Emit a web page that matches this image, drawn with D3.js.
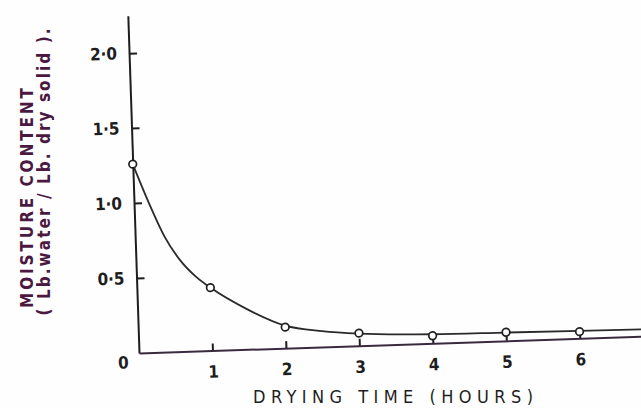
<!DOCTYPE html>
<html>
<head>
<meta charset="utf-8">
<script src="https://cdn.jsdelivr.net/npm/d3@7"></script>
<style>
  html, body { margin: 0; padding: 0; background: #fefefe; }
  svg { display: block; }
  text { font-family: "DejaVu Sans Condensed", "Liberation Sans Narrow", "Roboto Condensed", "DejaVu Sans", sans-serif; font-weight: bold; }
  text.xtitle { font-weight: normal; }
</style>
</head>
<body>
<script>
// ---- data ----
const times = [0, 1, 2, 3, 4, 5, 6];                       // drying time (hours), measured points
const moisture = [1.26, 0.42, 0.14, 0.084, 0.05, 0.057, 0.045]; // lb water / lb dry solid
// smooth drying curve drawn through the points
const curveTimes = [0, 0.2, 0.4, 0.6, 0.8, 1, 1.5, 2, 2.5, 3, 4, 5, 6, 7];
const curveMoisture = [1.26, 1.0, 0.77, 0.61, 0.5, 0.42, 0.265, 0.15, 0.105, 0.08, 0.06, 0.055, 0.05, 0.045];
const xTicks = [1, 2, 3, 4, 5, 6];
const yTicks = [0.5, 1.0, 1.5, 2.0];
const xTitle = "DRYING TIME   (HOURS)";
const yTitle1 = "MOISTURE CONTENT";
const yTitle2 = "( Lb.water / Lb. dry solid ).";

const W = 641, H = 408;
const ink = "#1e1e1e";
const svg = d3.select("body").append("svg").attr("width", W).attr("height", H);
svg.append("rect").attr("width", W).attr("height", H).attr("fill", "#fefefe");

const ox = 139, oy = 353;           // axis origin on the page
const tilt = -1.9;                  // the scanned figure is slightly rotated
const x = d3.scaleLinear().domain([0, 7]).range([0, 7 * 73.5]);
const y = d3.scaleLinear().domain([0, 2.25]).range([0, -337.5]);

const g = svg.append("g").attr("transform", `translate(${ox},${oy}) rotate(${tilt})`);

const fmt = d => d3.format(".1f")(d).replace(".", "\u00B7");

// y axis
const yAxis = d3.axisLeft(y).tickValues(yTicks).tickSizeInner(-8).tickSizeOuter(0)
  .tickPadding(12).tickFormat(fmt);
const ya = g.append("g").call(yAxis);
ya.select(".domain").attr("stroke", ink).attr("stroke-width", 2);
ya.selectAll(".tick line").attr("stroke", ink).attr("stroke-width", 2);
ya.selectAll(".tick text").attr("fill", ink).attr("font-size", 17).attr("font-family", null);

// x axis
const xAxis = d3.axisBottom(x).tickValues(xTicks).tickSizeInner(-7).tickSizeOuter(0)
  .tickPadding(15).tickFormat(d3.format("d"));
const xa = g.append("g").call(xAxis);
xa.select(".domain").attr("stroke", "#3a2a40").attr("stroke-width", 2);
xa.selectAll(".tick line").attr("stroke", ink).attr("stroke-width", 2);
xa.selectAll(".tick text").attr("fill", ink).attr("font-size", 17).attr("font-family", null);

// origin label
g.append("text").attr("x", -16).attr("y", 9).attr("dy", "0.35em")
  .attr("text-anchor", "middle").attr("font-size", 17).attr("fill", ink).text(d3.format("d")(0));

// drying curve
const line = d3.line().x(d => x(d[0])).y(d => y(d[1])).curve(d3.curveMonotoneX);
g.append("path").datum(d3.zip(curveTimes, curveMoisture))
  .attr("d", line).attr("fill", "none").attr("stroke", "#2a2a2a").attr("stroke-width", 1.8);

// measured points
g.selectAll("circle.pt").data(d3.zip(times, moisture)).join("circle")
  .attr("class", "pt")
  .attr("cx", d => x(d[0])).attr("cy", d => y(d[1])).attr("r", 3.8)
  .attr("fill", "#fefefe").attr("stroke", ink).attr("stroke-width", 1.7);

// x title (page coordinates)
svg.append("text").attr("class", "xtitle").attr("x", 393).attr("y", 403).attr("text-anchor", "middle")
  .attr("font-size", 18).attr("fill", ink)
  .attr("textLength", 280).attr("lengthAdjust", "spacing").text(xTitle);

// y titles (page coordinates)
svg.append("text").attr("transform", "translate(33,198) rotate(-90)")
  .attr("text-anchor", "middle").attr("font-size", 17).attr("fill", "#4a1840")
  .attr("textLength", 220).attr("lengthAdjust", "spacing").text(yTitle1);
svg.append("text").attr("transform", "translate(50,172) rotate(-90)")
  .attr("text-anchor", "middle").attr("font-size", 17).attr("fill", "#4a1840")
  .attr("textLength", 287).attr("lengthAdjust", "spacing").text(yTitle2);
</script>
</body>
</html>
